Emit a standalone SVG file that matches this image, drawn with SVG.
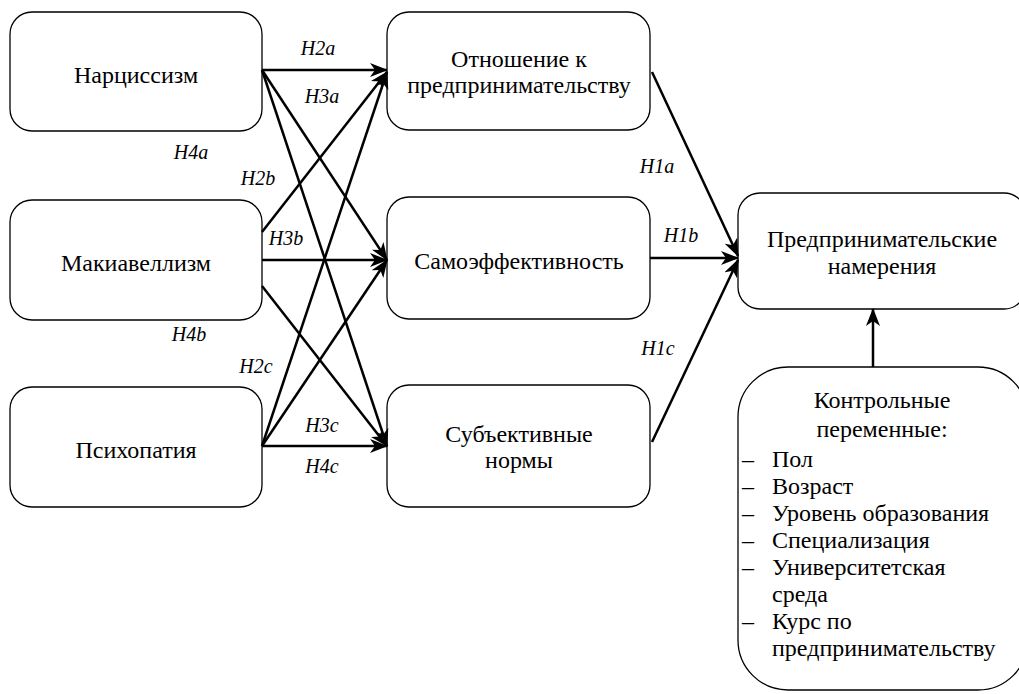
<svg xmlns="http://www.w3.org/2000/svg" width="1019" height="694" viewBox="0 0 1019 694">
<defs>
<marker id="ah" viewBox="0 0 18 14" refX="17" refY="7" markerWidth="18" markerHeight="14" markerUnits="userSpaceOnUse" orient="auto">
<path d="M0,0 L18,7 L0,14 L5,7 Z" fill="#000"/>
</marker>
<style>
.box{fill:#fff;stroke:#000;stroke-width:1.3}
.t{font-family:'Liberation Serif','Times New Roman',serif;font-size:24px;text-anchor:middle;fill:#000}
.l{font-family:'Liberation Serif','Times New Roman',serif;font-size:24px;fill:#000}
.h{font-family:'Liberation Serif','Times New Roman',serif;font-size:20px;font-style:italic;text-anchor:middle;fill:#000}
.c{stroke:#000;stroke-width:2.5;fill:none;marker-end:url(#ah)}
</style>
</defs>
<rect width="1019" height="694" fill="#fff"/>
<g id="n-narc"><rect class="box" x="10" y="12" width="252" height="119" rx="22"/><text class="t" x="136" y="83">Нарциссизм</text></g>
<g id="n-mach"><rect class="box" x="10" y="200" width="252" height="120" rx="22"/><text class="t" x="136" y="271">Макиавеллизм</text></g>
<g id="n-psych"><rect class="box" x="10" y="387" width="252" height="120" rx="22"/><text class="t" x="136" y="458">Психопатия</text></g>
<g id="n-att"><rect class="box" x="387" y="12" width="263" height="118" rx="22"/><text class="t" x="519" y="67">Отношение к</text><text class="t" x="519" y="93">предпринимательству</text></g>
<g id="n-self"><rect class="box" x="387" y="197" width="263" height="122" rx="22"/><text class="t" x="519" y="269">Самоэффективность</text></g>
<g id="n-norm"><rect class="box" x="387" y="385" width="263" height="122" rx="22"/><text class="t" x="519" y="442">Субъективные</text><text class="t" x="519" y="468">нормы</text></g>
<g id="n-int"><rect class="box" x="738" y="193" width="288" height="116" rx="22"/><text class="t" x="882" y="247">Предпринимательские</text><text class="t" x="882" y="274">намерения</text></g>
<g id="n-ctrl"><rect class="box" x="738" y="367" width="290" height="323" rx="50"/>
<text class="t" x="882" y="408">Контрольные</text>
<text class="t" x="882" y="437">переменные:</text>
<text class="l" x="742" y="467">–</text><text class="l" x="772" y="467">Пол</text>
<text class="l" x="742" y="494">–</text><text class="l" x="772" y="494">Возраст</text>
<text class="l" x="742" y="521">–</text><text class="l" x="772" y="521">Уровень образования</text>
<text class="l" x="742" y="548">–</text><text class="l" x="772" y="548">Специализация</text>
<text class="l" x="742" y="575">–</text><text class="l" x="772" y="575">Университетская</text>
<text class="l" x="772" y="602">среда</text>
<text class="l" x="742" y="629">–</text><text class="l" x="772" y="629">Курс по</text>
<text class="l" x="772" y="656">предпринимательству</text>
</g>
<g id="connectors">
<line class="c" x1="262" y1="70" x2="387" y2="70"/>
<line class="c" x1="262" y1="70" x2="387" y2="260"/>
<line class="c" x1="262" y1="70" x2="387" y2="446"/>
<line class="c" x1="262" y1="232" x2="387" y2="72"/>
<line class="c" x1="262" y1="260" x2="387" y2="260"/>
<line class="c" x1="262" y1="286" x2="387" y2="446"/>
<line class="c" x1="262" y1="446" x2="387" y2="72"/>
<line class="c" x1="262" y1="446" x2="387" y2="260"/>
<line class="c" x1="262" y1="446" x2="387" y2="446"/>
<line class="c" x1="652" y1="72" x2="738" y2="256"/>
<line class="c" x1="650" y1="258" x2="738" y2="258"/>
<line class="c" x1="652" y1="442" x2="738" y2="260"/>
<line class="c" x1="873" y1="367" x2="873" y2="309"/>
</g>
<g id="labels">
<text class="h" x="318" y="55">H2a</text>
<text class="h" x="322" y="103">H3a</text>
<text class="h" x="191" y="159">H4a</text>
<text class="h" x="258" y="185">H2b</text>
<text class="h" x="286" y="245">H3b</text>
<text class="h" x="189" y="341">H4b</text>
<text class="h" x="256" y="373">H2c</text>
<text class="h" x="322" y="432">H3c</text>
<text class="h" x="322" y="473">H4c</text>
<text class="h" x="657" y="173">H1a</text>
<text class="h" x="681" y="242">H1b</text>
<text class="h" x="658" y="355">H1c</text>
</g>
</svg>
